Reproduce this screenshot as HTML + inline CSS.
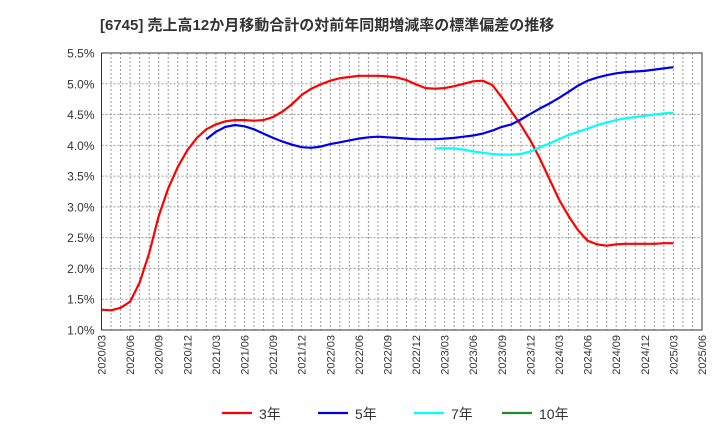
<!DOCTYPE html>
<html><head><meta charset="utf-8"><style>
body{margin:0;background:#fff;width:720px;height:440px;overflow:hidden;font-family:"Liberation Sans","Noto Sans CJK JP",sans-serif}
</style></head><body>
<svg id="c" width="720" height="440" xmlns="http://www.w3.org/2000/svg">
<text x="100" y="30" font-size="15" font-weight="bold" fill="#333" font-family="Liberation Sans, Noto Sans CJK JP, sans-serif">[6745]  売上高12か月移動合計の対前年同期増減率の標準偏差の推移</text>
<g id="grid"></g><g id="series"></g><g id="axes"></g><g id="legend"></g>
</svg>
<script>
const yTicks=[1.0,1.5,2.0,2.5,3.0,3.5,4.0,4.5,5.0,5.5];
const xLabels=["2020/03","2020/06","2020/09","2020/12","2021/03","2021/06","2021/09","2021/12","2022/03","2022/06","2022/09","2022/12","2023/03","2023/06","2023/09","2023/12","2024/03","2024/06","2024/09","2024/12","2025/03","2025/06"];
const red=[1.33,1.32,1.36,1.46,1.77,2.25,2.85,3.30,3.65,3.92,4.12,4.26,4.34,4.39,4.41,4.41,4.40,4.41,4.46,4.55,4.67,4.82,4.92,4.99,5.05,5.09,5.11,5.13,5.13,5.13,5.12,5.10,5.06,4.99,4.93,4.92,4.93,4.96,5.00,5.04,5.05,4.98,4.78,4.55,4.33,4.08,3.78,3.45,3.12,2.85,2.62,2.45,2.39,2.37,2.39,2.40,2.40,2.40,2.40,2.41,2.41];
const blueStart=11;
const blue=[4.10,4.22,4.30,4.33,4.31,4.26,4.19,4.12,4.06,4.01,3.97,3.96,3.98,4.02,4.05,4.08,4.11,4.13,4.14,4.13,4.12,4.11,4.10,4.10,4.10,4.11,4.12,4.14,4.16,4.19,4.24,4.30,4.34,4.42,4.51,4.60,4.68,4.77,4.87,4.97,5.05,5.10,5.14,5.17,5.19,5.20,5.21,5.23,5.25,5.27];
const cyanStart=35;
const cyan=[3.95,3.95,3.95,3.93,3.90,3.88,3.86,3.85,3.85,3.86,3.90,3.97,4.03,4.10,4.17,4.22,4.27,4.33,4.37,4.41,4.44,4.46,4.48,4.50,4.52,4.53];
const green=[];
const L=101.5,R=702,T=53,B=330,NM=63;
const X=i=>L+(R-L)*i/NM;
const Y=v=>B-(v-1.0)/(5.5-1.0)*(B-T);
const NS="http://www.w3.org/2000/svg";
function mk(p,t,a){const e=document.createElementNS(NS,t);for(const k in a)e.setAttribute(k,a[k]);p.appendChild(e);return e;}
const g=document.getElementById('grid'),s=document.getElementById('series'),ax=document.getElementById('axes'),lg=document.getElementById('legend');
for(let i=1;i<NM;i++){const l=mk(g,'line',{x1:X(i),x2:X(i),y1:T,y2:B,stroke:'#999','stroke-dasharray':'2,2','stroke-width':1});

}
yTicks.forEach(v=>{const l=mk(g,'line',{x1:L,x2:R,y1:Y(v),y2:Y(v),stroke:'#999','stroke-dasharray':'2,2','stroke-width':1});


const t=mk(ax,'text',{x:L-7,y:Y(v)+4.5,'text-anchor':'end','font-size':12,fill:'#333'});t.textContent=v.toFixed(1)+'%';

});
xLabels.forEach((lab,k)=>{const x=X(k*3);const t=mk(ax,'text',{x:0,y:0,transform:`translate(${x+4},${B+5}) rotate(-90)`,'text-anchor':'end','font-size':11,fill:'#333'});t.textContent=lab;

});
const fr=mk(ax,'rect',{x:L,y:T,width:R-L,height:B-T,fill:'none',stroke:'#333','stroke-width':1});


function line(arr,start,color,name){if(!arr.length)return;const d=arr.map((v,i)=>(i?'L':'M')+X(start+i).toFixed(1)+','+Y(v).toFixed(1)).join('');
const p=mk(s,'path',{d:d,fill:'none',stroke:color,'stroke-width':2.2,'stroke-linejoin':'round'});

}
line(red,0,'#ff0000','series-3y');line(blue,blueStart,'#0000ee','series-5y');line(cyan,cyanStart,'#00ffff','series-7y');line(green,0,'#228b22','series-10y');
const leg=[['3年','#ff0000',222],['5年','#0000ee',318],['7年','#00ffff',414],['10年','#228b22',502]];
leg.forEach(([n,c,x])=>{const gi=mk(lg,'g',{});


mk(gi,'line',{x1:x,x2:x+30,y1:413,y2:413,stroke:c,'stroke-width':2.2});
const t=mk(gi,'text',{x:x+37,y:419,'font-size':14,fill:'#333'});t.textContent=n;});
</script>
</body></html>
